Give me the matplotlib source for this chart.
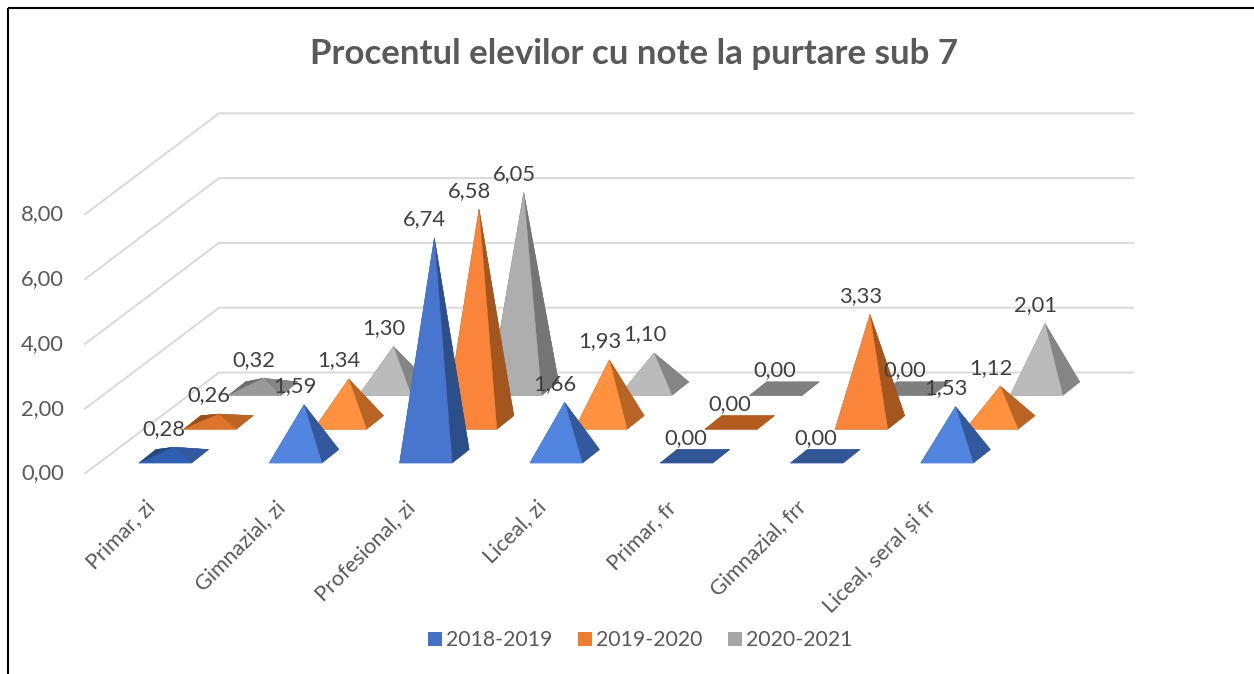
import matplotlib
matplotlib.use("Agg")
import matplotlib.pyplot as plt
from matplotlib.patches import Polygon, Patch

title = "Procentul elevilor cu note la purtare sub 7"
categories = ["Primar, zi", "Gimnazial, zi", "Profesional, zi", "Liceal, zi",
              "Primar, fr", "Gimnazial, frr", "Liceal, seral și fr"]
series_names = ["2018-2019", "2019-2020", "2020-2021"]
values_2018 = [0.28, 1.59, 6.74, 1.66, 0.00, 0.00, 1.53]
values_2019 = [0.26, 1.34, 6.58, 1.93, 0.00, 3.33, 1.12]
values_2020 = [0.32, 1.30, 6.05, 1.10, 0.00, 0.00, 2.01]
y_ticks = [0, 2, 4, 6, 8]

plt.rcParams["font.family"] = ["Lato", "DejaVu Sans"]
fig = plt.figure(figsize=(12.54, 6.74), dpi=100, facecolor="white")
ax = fig.add_axes([0, 0, 1, 1])
ax.set_xlim(0, 1254)
ax.set_ylim(674, 0)
ax.axis("off")

# projection of the 3D chart box onto the picture
UNIT = 32.4
CAT_STEP = 130.3
X0, Y0 = 139.0, 463.0
SER_DX, SER_DY = 44.7, -33.8
W, DX, DY = 52.5, 17.0, -13.5
TXT = "#595959"
LBL = "#404040"
GRID = "#D9D9D9"

# frame
ax.plot([8, 8], [674, 8], color="black", lw=1.5, solid_capstyle="butt", zorder=1)
ax.plot([8, 1254], [8, 8], color="black", lw=1.5, solid_capstyle="butt", zorder=1)

# gridlines on side and back wall
for t in y_ticks:
    yb = 372.5 - t * UNIT
    yf = 473.5 - t * UNIT
    ax.plot([85, 219, 1133], [yf, yb, yb], color=GRID, lw=1.4, zorder=2,
            solid_joinstyle="miter")
    ax.text(64, yf, f"{t:.2f}".replace(".", ","), ha="right", va="center",
            fontsize=15.8, color=TXT)

# face colours: (left, right, front) per height class
PALETTE = {
    0: {"flat": ("#325595", "#325595", "#325595"), "low": ("#24477F", "#34589F", "#2F5FB0"),
        "mid": ("#2F528F", "#33589B", "#5285DF"), "high": ("#2F528F", "#2D4F89", "#4876CF")},
    1: {"flat": ("#B35C1E", "#B35C1E", "#B35C1E"), "low": ("#9A4F18", "#BD6423", "#DC742B"),
        "mid": ("#A5591F", "#B86424", "#FF913F"), "high": ("#A5591F", "#A3571E", "#F9843A")},
    2: {"flat": ("#7F7F7F", "#7F7F7F", "#7F7F7F"), "low": ("#6E6E6E", "#868686", "#999999"),
        "mid": ("#808080", "#858585", "#BBBBBB"), "high": ("#757575", "#757575", "#AEAEAE")},
}


def height_class(v):
    if v == 0:
        return "flat"
    if v < 0.5:
        return "low"
    return "mid" if v < 3 else "high"


def face(points, color, z):
    ax.add_patch(Polygon(points, closed=True, facecolor=color, edgecolor=color,
                         lw=0.3, zorder=z))


all_values = [values_2018, values_2019, values_2020]
for s in (2, 1, 0):
    for c, v in enumerate(all_values[s]):
        x = X0 + c * CAT_STEP + s * SER_DX
        y = Y0 + s * SER_DY
        fl, fr, bl, br = (x, y), (x + W, y), (x + DX, y + DY), (x + W + DX, y + DY)
        apex = (x + (W + DX) / 2, y + DY / 2 - v * UNIT)
        left_c, right_c, front_c = PALETTE[s][height_class(v)]
        z = 3 + (2 - s)
        face([fl, fr, br, bl], right_c, z)
        face([fl, bl, apex], left_c, z)
        face([bl, br, apex], left_c, z)
        face([fr, br, apex], right_c, z)
        face([fl, fr, apex], front_c, z)
        ax.text(apex[0] - 9.5, apex[1] - 18.5, f"{v:.2f}".replace(".", ","),
                ha="center", va="center", fontsize=15.8, color=LBL, zorder=10)

# category labels
for c, name in enumerate(categories):
    ax.text(151.5 + c * CAT_STEP, 504, name, rotation=45, rotation_mode="anchor",
            ha="right", va="center", fontsize=15.5, color=TXT)

ax.text(634, 54, title, ha="center", va="center", fontsize=25.1, fontweight="bold", color=TXT)

handles = [Patch(facecolor=col, edgecolor="none", label=n)
           for col, n in zip(["#4472C4", "#ED7D31", "#A5A5A5"], series_names)]
ax.legend(handles=handles, ncol=3, loc="center", bbox_to_anchor=(640, 640.5),
          bbox_transform=ax.transData, frameon=False, fontsize=15.3, labelcolor=TXT,
          handlelength=0.65, handleheight=0.65, handletextpad=0.2, columnspacing=1.2,
          borderpad=0)

fig.savefig("out.png", dpi=100)
